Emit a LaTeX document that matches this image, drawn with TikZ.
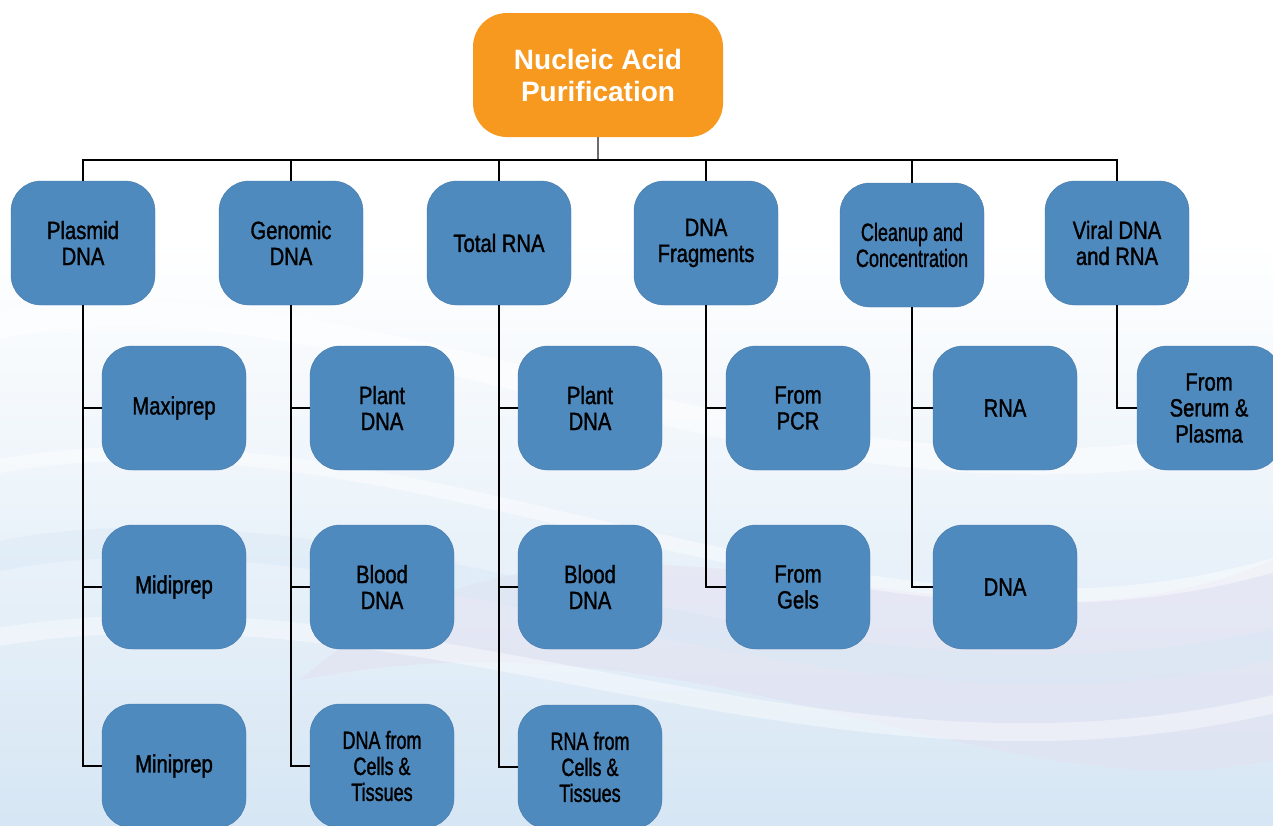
\documentclass[tikz,border=0pt]{standalone}
\usepackage{fontspec}
\setmainfont{Liberation Sans}
\newfontfamily\condA[FakeStretch=0.81,FakeBold=1.3]{Liberation Sans}
\newfontfamily\condB[FakeStretch=0.72,FakeBold=1.3]{Liberation Sans}
\definecolor{boxblue}{RGB}{79,138,191}
\definecolor{rootorange}{RGB}{247,152,31}
\definecolor{bgblue}{RGB}{214,230,244}
\definecolor{bglav}{RGB}{228,222,240}
\begin{document}
\begin{tikzpicture}[x=1pt,y=-1pt,
  box/.style={draw=boxblue!88!black, line width=0.4pt, fill=boxblue, rounded corners=30pt,
    minimum width=144pt, minimum height=124pt, align=center, inner sep=0pt,
    text=black, font=\condA\fontsize{25}{26}\selectfont},
  narrow/.style={font=\condB\fontsize{25}{26}\selectfont},
  root/.style={fill=rootorange, rounded corners=34pt, minimum width=250pt, minimum height=124pt,
    align=center, inner sep=0pt, text=white, font=\bfseries\fontsize{28}{32}\selectfont},
  link/.style={draw=black, line width=1.1pt},
  wave/.style={line cap=round}]
\useasboundingbox (0,0) rectangle (1273,825);
\clip (0,0) rectangle (1273,825);
% background
\fill[white] (0,0) rectangle (1273,825);
\shade[top color=white, bottom color=bgblue] (0,240) rectangle (1273,825);
\fill[bglav, opacity=0.45] (300,680) .. controls (600,420) and (950,700) .. (1273,560)
  -- (1273,760) .. controls (1000,820) and (700,600) .. (300,680) -- cycle;
\draw[wave, white, line width=26pt, opacity=0.5] (-20,330) .. controls (350,240) and (800,560) .. (1290,430);
\draw[wave, white, line width=14pt, opacity=0.45] (-20,470) .. controls (400,380) and (850,700) .. (1290,560);
\draw[wave, white, line width=18pt, opacity=0.4] (-20,640) .. controls (420,560) and (820,820) .. (1290,700);
\draw[wave, bgblue, line width=30pt, opacity=0.4] (-20,560) .. controls (380,470) and (820,760) .. (1290,640);

% nodes
\node[root] (root) at (598,75) {Nucleic Acid\\Purification};

\node[box] (p1) at (83,243) {Plasmid\\DNA};
\node[box] (p2) at (291,243) {Genomic\\DNA};
\node[box] (p3) at (499,243) {Total RNA};
\node[box] (p4) at (706,243) {DNA\\Fragments};
\node[box, narrow] (p5) at (912,245) {Cleanup and\\Concentration};
\node[box] (p6) at (1117,243) {Viral DNA\\and RNA};

\node[box] (c11) at (174,408) {Maxiprep};
\node[box] (c12) at (174,587) {Midiprep};
\node[box] (c13) at (174,766) {Miniprep};

\node[box] (c21) at (382,408) {Plant\\DNA};
\node[box] (c22) at (382,587) {Blood\\DNA};
\node[box, narrow] (c23) at (382,766) {DNA from\\Cells \&\\Tissues};

\node[box] (c31) at (590,408) {Plant\\DNA};
\node[box] (c32) at (590,587) {Blood\\DNA};
\node[box, narrow] (c33) at (590,767) {RNA from\\Cells \&\\Tissues};

\node[box] (c41) at (798,408) {From\\PCR};
\node[box] (c42) at (798,587) {From\\Gels};

\node[box] (c51) at (1005,408) {RNA};
\node[box] (c52) at (1005,587) {DNA};

\node[box] (c61) at (1209,408) {From\\Serum \&\\Plasma};

% connectors
\coordinate (bus) at (598,160);
\draw[draw=gray!85!black, line width=1.6pt] (root.south) -- (bus);
\foreach \p in {p1,p2,p3,p4,p5,p6} \draw[link] (\p.north) |- (bus);
\foreach \p/\c in {p1/c11,p1/c12,p1/c13,p2/c21,p2/c22,p2/c23,p3/c31,p3/c32,p3/c33,p4/c41,p4/c42,p5/c51,p5/c52,p6/c61}
  \draw[link] (\p.south) |- (\c.west);
\end{tikzpicture}
\end{document}
